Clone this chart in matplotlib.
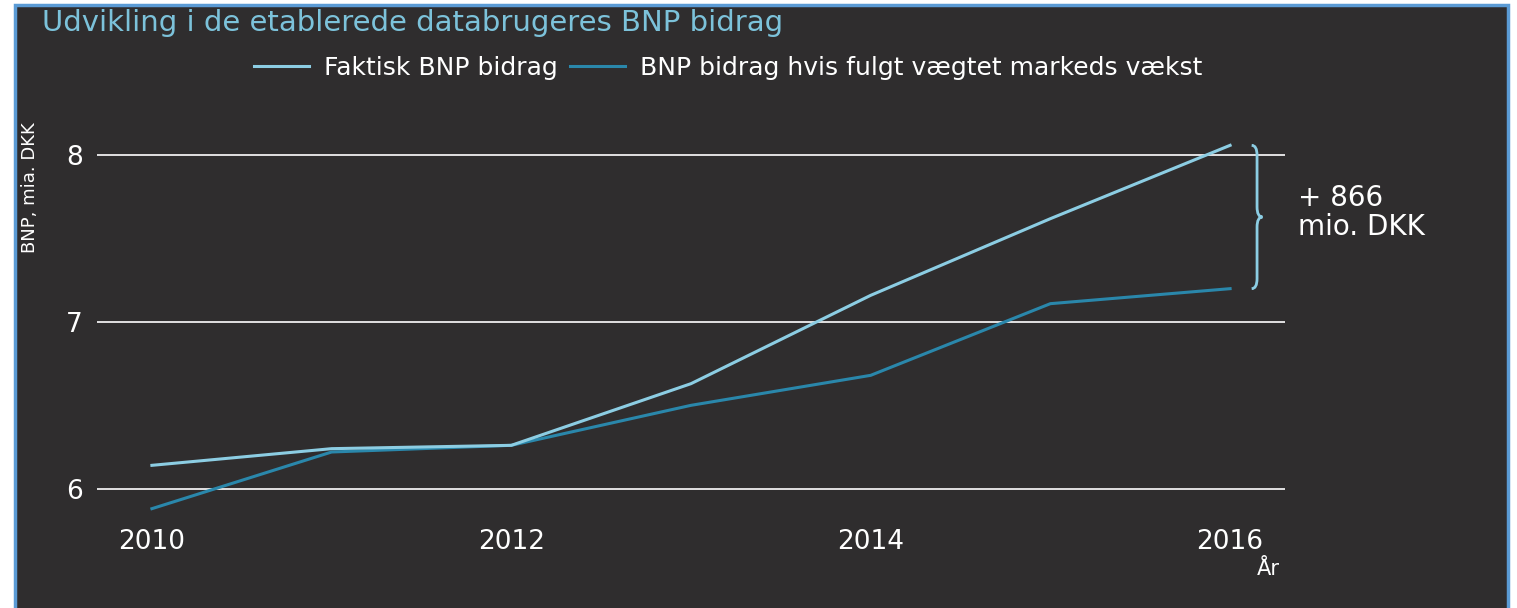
import matplotlib
matplotlib.use("Agg")
import matplotlib.pyplot as plt
from matplotlib.patches import Rectangle, PathPatch
from matplotlib.path import Path

years = [2010, 2011, 2012, 2013, 2014, 2015, 2016]
faktisk = [6.14, 6.24, 6.26, 6.63, 7.16, 7.62, 8.06]
vaegtet = [5.88, 6.22, 6.26, 6.50, 6.68, 7.11, 7.20]
xticks = [2010, 2012, 2014, 2016]
yticks = [6, 7, 8]
series_labels = ["Faktisk BNP bidrag", "BNP bidrag hvis fulgt vægtet markeds vækst"]
title = "Udvikling i de etablerede databrugeres BNP bidrag"
ylabel = "BNP, mia. DKK"
xlabel = "År"
diff_text = "+ 866\nmio. DKK"

BG = "#2f2d2e"
C1 = "#8ccde3"
C2 = "#2a87ab"
TITLE_C = "#7cc2da"

W, H = 1517, 608
fig = plt.figure(figsize=(W / 100, H / 100), dpi=100, facecolor="white")

def fx(px):
    return px / W

def fy(py):
    return 1 - py / H

# panel background with border
fig.patches.append(Rectangle((fx(15), fy(612)), fx(1508) - fx(15), fy(5) - fy(612),
                             transform=fig.transFigure, facecolor=BG,
                             edgecolor="#5b9bd5", linewidth=2.5, zorder=-10))

ax = fig.add_axes([fx(97), fy(522), fx(1285) - fx(97), fy(122) - fy(522)])
ax.set_zorder(5)
ax.set_facecolor("none")
ax.set_xlim(2010 - 55 / 180, 2016 + 55 / 180)
ax.set_ylim(5.8, 8.2)
for s in ax.spines.values():
    s.set_visible(False)
ax.set_yticks(yticks)
ax.set_xticks(xticks)
ax.grid(axis="y", color="white", linewidth=1.2)
ax.set_axisbelow(True)
ax.tick_params(length=0, colors="white", labelsize=19)
ax.tick_params(axis="x", pad=5)
ax.tick_params(axis="y", pad=10)

l1, = ax.plot(years, faktisk, color=C1, linewidth=2.2, zorder=3)
l2, = ax.plot(years, vaegtet, color=C2, linewidth=2.2, zorder=2)

# brace between final values
xb = years[-1] + 0.15
top, bot = faktisk[-1], vaegtet[-1]
mid = (top + bot) / 2
dx = 0.03
dy = 0.06
verts = [
    (xb - dx, top), (xb, top), (xb, top - dy),
    (xb, mid + dy), (xb, mid), (xb + dx, mid),
    (xb, mid), (xb, mid - dy),
    (xb, bot + dy), (xb, bot), (xb - dx, bot),
]
codes = [Path.MOVETO, Path.CURVE3, Path.CURVE3,
         Path.LINETO, Path.CURVE3, Path.CURVE3,
         Path.CURVE3, Path.CURVE3,
         Path.LINETO, Path.CURVE3, Path.CURVE3]
ax.add_patch(PathPatch(Path(verts, codes), facecolor="none", edgecolor=C1,
                       linewidth=2, clip_on=False))
ax.text(xb + 0.23, mid + 0.025, diff_text, color="white", fontsize=20,
        va="center", ha="left", linespacing=1.05)

fig.text(fx(42), fy(23), title, color=TITLE_C, fontsize=21, va="center", ha="left")

# legend
fig.legend([l1, l2], series_labels, loc="center", bbox_to_anchor=(fx(728), fy(68)),
           ncol=2, frameon=False, fontsize=18, labelcolor="white",
           handlelength=2.2, handletextpad=0.6, columnspacing=0.5)

fig.text(fx(30), fy(188), ylabel, color="white", fontsize=13, rotation=90,
         va="center", ha="center", family=["Liberation Sans Narrow", "DejaVu Sans"])
fig.text(fx(1268), fy(569), xlabel, color="white", fontsize=15, va="center", ha="center")

fig.savefig("out.png", dpi=100, facecolor="white")
